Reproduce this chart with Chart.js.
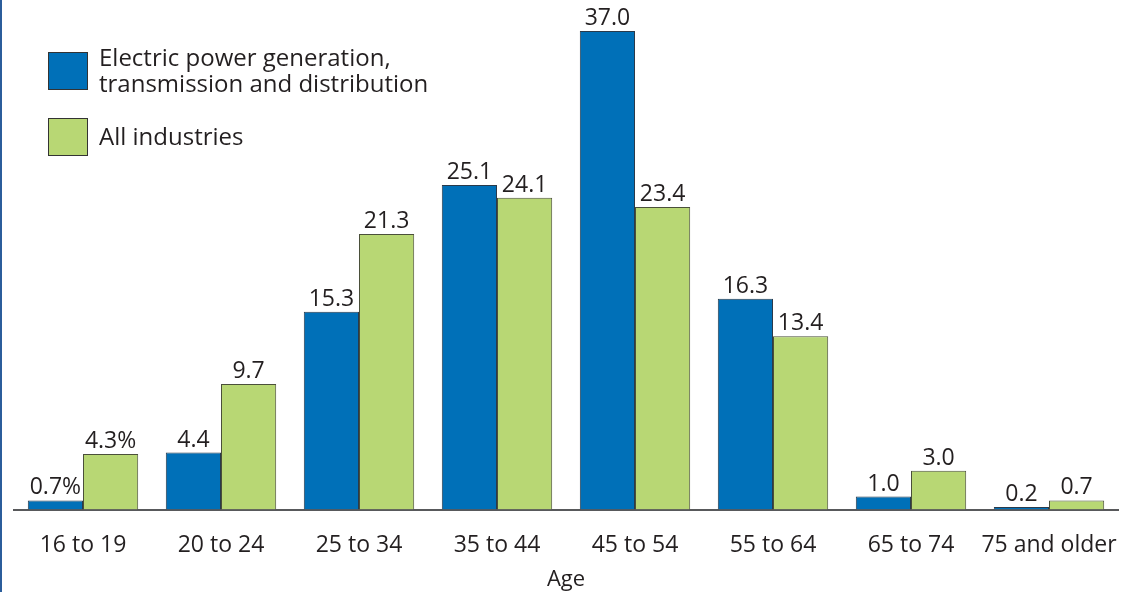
<!DOCTYPE html>
<html>
<head>
<meta charset="utf-8">
<script src="https://cdn.jsdelivr.net/npm/chart.js@4/dist/chart.umd.min.js"></script>
<style>
  html, body { margin: 0; padding: 0; background: #fff; }
  body { width: 1133px; height: 592px; overflow: hidden; position: relative; }
  .edge { position: absolute; left: 0; top: 0; width: 2px; height: 592px; background: #2b5d9b; }
  .wrap { position: absolute; left: 0; top: 0; width: 1133px; height: 592px; }
</style>
</head>
<body>
<div class="edge"></div>
<div class="wrap"><canvas id="ageChart"></canvas></div>
<script>
// 年龄分组与两组百分比
const ageGroups = ['16 to 19', '20 to 24', '25 to 34', '35 to 44', '45 to 54', '55 to 64', '65 to 74', '75 and older'];
const electricShare = [0.7, 4.4, 15.3, 25.1, 37.0, 16.3, 1.0, 0.2];
const allIndustryShare = [4.3, 9.7, 21.3, 24.1, 23.4, 13.4, 3.0, 0.7];
const seriesNames = [['Electric power generation,', 'transmission and distribution'], ['All industries']];

const FONT = '"Open Sans", "Noto Sans", sans-serif';
const TEXT = '#231f20';
const BLUE = '#0070b8';
const GREEN = '#b8d774';

// 柱顶数值标注
const valueLabels = {
    id: 'valueLabels',
    afterDatasetsDraw(chart) {
        const ctx = chart.ctx;
        ctx.save();
        ctx.fillStyle = TEXT;
        ctx.font = '23px ' + FONT;
        ctx.textAlign = 'center';
        ctx.textBaseline = 'alphabetic';
        chart.data.datasets.forEach((ds, di) => {
            chart.getDatasetMeta(di).data.forEach((bar, i) => {
                let txt = ds.data[i].toFixed(1);
                if (i === 0) txt += '%';
                ctx.fillText(txt, bar.x, bar.y - 6);
            });
        });
        ctx.restore();
    }
};

// 左上角图例
const boxLegend = {
    id: 'boxLegend',
    afterDraw(chart) {
        const ctx = chart.ctx;
        const colors = [BLUE, GREEN];
        const tops = [52, 118];
        ctx.save();
        ctx.font = '24px ' + FONT;
        ctx.textBaseline = 'middle';
        ctx.textAlign = 'left';
        seriesNames.forEach((lines, k) => {
            ctx.fillStyle = colors[k];
            ctx.fillRect(48, tops[k], 40, 38);
            ctx.strokeStyle = '#333';
            ctx.lineWidth = 1;
            ctx.strokeRect(48.5, tops[k] + 0.5, 39, 37);
            ctx.fillStyle = TEXT;
            const y0 = lines.length > 1 ? tops[k] + 7 : tops[k] + 20;
            lines.forEach((ln, j) => ctx.fillText(ln, 99, y0 + j * 26));
        });
        ctx.restore();
    }
};

new Chart(document.getElementById('ageChart'), {
    type: 'bar',
    data: {
        labels: ageGroups,
        datasets: [
            {
                label: seriesNames[0].join(' '),
                data: electricShare,
                backgroundColor: BLUE,
                borderColor: '#2a3a4a',
                borderWidth: 1,
                barPercentage: 1,
                categoryPercentage: 0.8
            },
            {
                label: seriesNames[1][0],
                data: allIndustryShare,
                backgroundColor: GREEN,
                borderColor: '#4a4f3a',
                borderWidth: 1,
                barPercentage: 1,
                categoryPercentage: 0.8
            }
        ]
    },
    options: {
        responsive: true,
        maintainAspectRatio: false,
        animation: false,
        layout: { padding: { top: 31, right: 15, bottom: 0, left: 14 } },
        plugins: {
            legend: { display: false },
            tooltip: { enabled: false }
        },
        scales: {
            y: {
                display: false,
                min: 0,
                max: 37
            },
            x: {
                grid: { display: false, drawTicks: false },
                border: { display: true, color: '#58595b', width: 2 },
                ticks: { color: TEXT, font: { family: FONT, size: 23, lineHeight: 1.1 }, padding: 23, maxRotation: 0, autoSkip: false },
                title: { display: true, text: 'Age', color: TEXT, font: { family: FONT, size: 22, lineHeight: 1.1 }, padding: { top: -13, bottom: 0 } },
                // 不让末尾长标签把绘图区往里挤
                afterFit(scale) {
                    scale.paddingLeft = 0;
                    scale.paddingRight = 0;
                }
            }
        }
    },
    plugins: [valueLabels, boxLegend]
});
</script>
</body>
</html>
